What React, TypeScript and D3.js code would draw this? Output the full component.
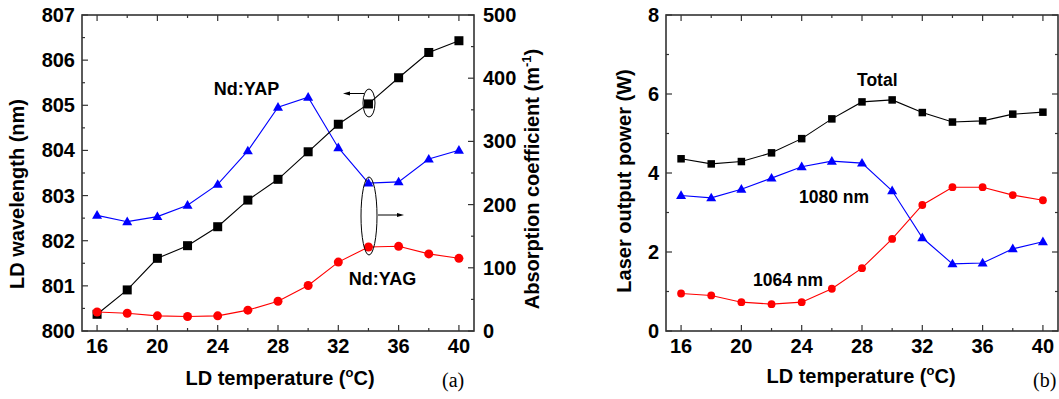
import React from "react";
import * as d3 from "d3";

const temps = [16, 18, 20, 22, 24, 26, 28, 30, 32, 34, 36, 38, 40];
const ldWavelength = [800.37, 800.91, 801.61, 801.89, 802.31, 802.9, 803.36, 803.97, 804.58, 805.03, 805.61, 806.17, 806.43];
const absYAP = [183, 173, 181, 199, 232, 285, 354, 370, 290, 234, 236, 272, 286];
const absYAG = [30, 28, 24, 23, 24, 33, 47, 72, 109, 133, 134, 122, 115];
const powerTotal = [4.36, 4.23, 4.29, 4.51, 4.87, 5.37, 5.8, 5.85, 5.53, 5.29, 5.32, 5.49, 5.54];
const power1080 = [3.43, 3.37, 3.59, 3.87, 4.16, 4.3, 4.25, 3.55, 2.36, 1.7, 1.72, 2.08, 2.26];
const power1064 = [0.95, 0.9, 0.73, 0.68, 0.73, 1.07, 1.59, 2.33, 3.19, 3.64, 3.64, 3.44, 3.31];

const xTickLabels = [16, 20, 24, 28, 32, 36, 40];
const wlTicks = [800, 801, 802, 803, 804, 805, 806, 807];
const absTicks = [0, 100, 200, 300, 400, 500];
const powTicks = [0, 2, 4, 6, 8];

const SANS = "'Liberation Sans', Arial, Helvetica, sans-serif";
const SERIF = "'Liberation Serif', 'Times New Roman', serif";

const TOP = 15;
const BOTTOM = 331;

type Marker = "square" | "circle" | "triangle";

function Markers({ xs, ys, kind, color, size }: { xs: number[]; ys: number[]; kind: Marker; color: string; size: number }) {
  return (
    <g fill={color}>
      {xs.map((x, i) => {
        const y = ys[i];
        if (kind === "square") return <rect key={i} x={x - size / 2} y={y - size / 2} width={size} height={size} />;
        if (kind === "circle") return <circle key={i} cx={x} cy={y} r={size / 2} />;
        const h = size * 0.87;
        return <path key={i} d={`M${x},${y - h * 0.6} L${x + size / 2},${y + h * 0.4} L${x - size / 2},${y + h * 0.4} Z`} />;
      })}
    </g>
  );
}

function Series({ x, y, vals, kind, color, size }: any) {
  const line = d3.line<number>().x((_, i) => x(temps[i])).y((v) => y(v));
  return (
    <g>
      <path d={line(vals) || ""} fill="none" stroke={color} strokeWidth={1.1} />
      <Markers xs={temps.map((t) => x(t))} ys={vals.map((v: number) => y(v))} kind={kind} color={color} size={size} />
    </g>
  );
}

function XAxisFrame({ x, left, right }: { x: d3.ScaleLinear<number, number>; left: number; right: number }) {
  const minor = d3.range(16, 41, 2);
  return (
    <g>
      {minor.map((t) => {
        const major = (t - 16) % 4 === 0;
        const len = major ? 6 : 3;
        return (
          <g key={t} stroke="#333" strokeWidth={1.2}>
            <line x1={x(t)} x2={x(t)} y1={BOTTOM} y2={BOTTOM - len} />
            <line x1={x(t)} x2={x(t)} y1={TOP} y2={TOP + len} />
          </g>
        );
      })}
      {xTickLabels.map((t) => (
        <text key={t} x={x(t)} y={353} textAnchor="middle" fontFamily={SANS} fontWeight="bold" fontSize={20}>
          {t}
        </text>
      ))}
      <rect x={left} y={TOP} width={right - left} height={BOTTOM - TOP} fill="none" stroke="#333" strokeWidth={1.6} />
    </g>
  );
}

function YTicks({ y, ticks, minorTicks, axisX, dir, labelSide }: any) {
  return (
    <g>
      {minorTicks.map((t: number) => (
        <line key={"m" + t} x1={axisX} x2={axisX + dir * 3} y1={y(t)} y2={y(t)} stroke="#333" strokeWidth={1.2} />
      ))}
      {ticks.map((t: number) => (
        <line key={"M" + t} x1={axisX} x2={axisX + dir * 6} y1={y(t)} y2={y(t)} stroke="#333" strokeWidth={1.2} />
      ))}
      {labelSide &&
        ticks.map((t: number) => (
          <text
            key={"l" + t}
            x={labelSide === "left" ? axisX - 7 : axisX + 9}
            y={y(t) + 7}
            textAnchor={labelSide === "left" ? "end" : "start"}
            fontFamily={SANS}
            fontWeight="bold"
            fontSize={20}
          >
            {t}
          </text>
        ))}
    </g>
  );
}

function XTitle({ cx, baseline }: { cx: number; baseline: number }) {
  return (
    <text x={cx} y={baseline} textAnchor="middle" fontFamily={SANS} fontWeight="bold" fontSize={20}>
      LD temperature (
      <tspan fontSize={13} dy={-8}>o</tspan>
      <tspan dy={8}>C)</tspan>
    </text>
  );
}

export default function App() {
  // Panel (a)
  const xa = d3.scaleLinear().domain([15, 41]).range([82, 474]);
  const yWl = d3.scaleLinear().domain([800, 807]).range([BOTTOM, TOP]);
  const yAbs = d3.scaleLinear().domain([0, 500]).range([BOTTOM, TOP]);
  // Panel (b)
  const xb = d3.scaleLinear().domain([15, 41]).range([666, 1058]);
  const yPow = d3.scaleLinear().domain([0, 8]).range([BOTTOM, TOP]);

  const wlMinor = d3.range(800.5, 807, 1);
  const absMinor = d3.range(50, 500, 100);
  const powMinor = [1, 3, 5, 7];

  return (
    <svg width={1059} height={399} style={{ position: "absolute", left: 0, top: 0, background: "#fff" }}>
      <rect x={0} y={0} width={1059} height={399} fill="#fff" />
      {/* Panel (a) */}
      <YTicks y={yWl} ticks={wlTicks} minorTicks={wlMinor} axisX={82} dir={1} labelSide="left" />
      <YTicks y={yAbs} ticks={absTicks} minorTicks={absMinor} axisX={474} dir={-1} labelSide="right" />
      <XAxisFrame x={xa} left={82} right={474} />
      <Series x={xa} y={yAbs} vals={absYAP} kind="triangle" color="#0000ff" size={10} />
      <Series x={xa} y={yWl} vals={ldWavelength} kind="square" color="#000" size={9} />
      <Series x={xa} y={yAbs} vals={absYAG} kind="circle" color="#ff0000" size={9} />

      <text x={246.5} y={95} textAnchor="middle" fontFamily={SANS} fontWeight="bold" fontSize={18}>Nd:YAP</text>
      <text x={382.5} y={285} textAnchor="middle" fontFamily={SANS} fontWeight="bold" fontSize={18}>Nd:YAG</text>
      <ellipse cx={369} cy={103} rx={6} ry={14} fill="none" stroke="#000" strokeWidth={1} />
      <line x1={364} y1={93.5} x2={347} y2={93.5} stroke="#000" strokeWidth={1} />
      <path d="M343,93.5 L350,91.5 L350,95.5 Z" fill="#000" />
      <ellipse cx={369} cy={216} rx={8} ry={39} fill="none" stroke="#000" strokeWidth={1} />
      <line x1={378} y1={215} x2={399} y2={215} stroke="#000" strokeWidth={1} />
      <path d="M404,215 L397,213 L397,217 Z" fill="#000" />

      <text transform="translate(24,194) rotate(-90)" textAnchor="middle" fontFamily={SANS} fontWeight="bold" fontSize={20}>
        LD wavelength (nm)
      </text>
      <text transform="translate(539,179) rotate(-90)" textAnchor="middle" fontFamily={SANS} fontWeight="bold" fontSize={20}>
        Absorption coefficient (m
        <tspan fontSize={13} dy={-8}>-1</tspan>
        <tspan dy={8}>)</tspan>
      </text>
      <XTitle cx={280} baseline={385} />
      <text x={442} y={387} fontFamily={SERIF} fontSize={20}>(a)</text>

      {/* Panel (b) */}
      <YTicks y={yPow} ticks={powTicks} minorTicks={powMinor} axisX={666} dir={1} labelSide="left" />
      <YTicks y={yPow} ticks={powTicks} minorTicks={powMinor} axisX={1058} dir={-1} labelSide={null} />
      <XAxisFrame x={xb} left={666} right={1058} />
      <Series x={xb} y={yPow} vals={powerTotal} kind="square" color="#000" size={7.5} />
      <Series x={xb} y={yPow} vals={power1080} kind="triangle" color="#0000ff" size={10} />
      <Series x={xb} y={yPow} vals={power1064} kind="circle" color="#ff0000" size={7.8} />

      <text x={857} y={86} fontFamily={SANS} fontWeight="bold" fontSize={17.5}>Total</text>
      <text x={799} y={203} fontFamily={SANS} fontWeight="bold" fontSize={17.5}>1080 nm</text>
      <text x={753} y={286} fontFamily={SANS} fontWeight="bold" fontSize={17.5}>1064 nm</text>

      <text transform="translate(631,181) rotate(-90)" textAnchor="middle" fontFamily={SANS} fontWeight="bold" fontSize={20}>
        Laser output power (W)
      </text>
      <XTitle cx={861} baseline={383} />
      <text x={1033} y={387} fontFamily={SERIF} fontSize={20}>(b)</text>
    </svg>
  );
}
